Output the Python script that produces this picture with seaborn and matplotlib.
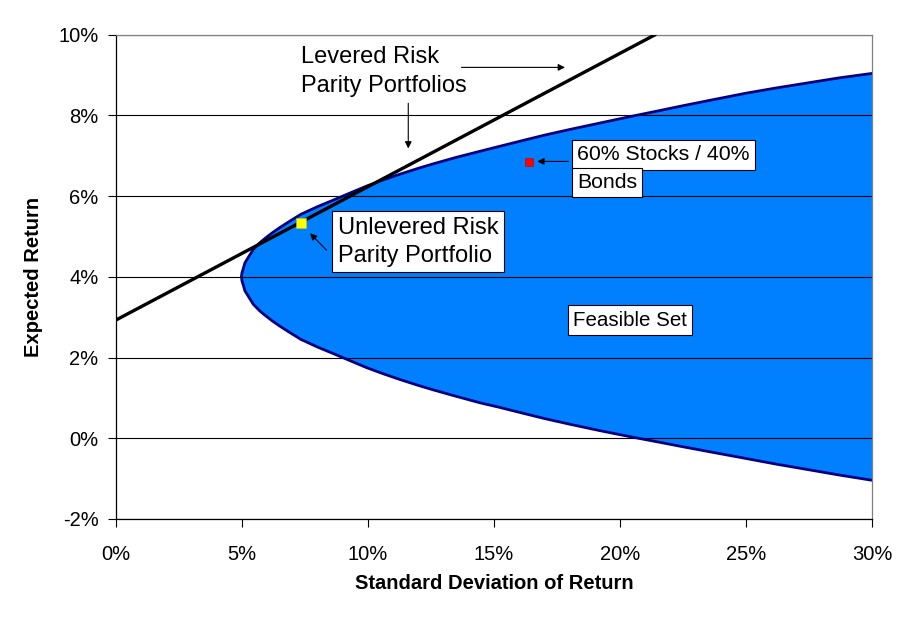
import matplotlib.pyplot as plt
import seaborn as sns
from matplotlib.ticker import FuncFormatter

# feasible set frontier (std dev %, expected return %)
frontier_sigma = [4.98, 5.0, 5.05, 5.12, 5.3, 5.45, 5.7, 5.91, 6.2, 6.5,
                  6.9, 7.34, 8.0, 8.62, 9.3, 9.95, 10.6, 11.3, 12.0, 12.59,
                  13.5, 14.44, 15.2, 16.03, 17.0, 18.0, 19.2, 20.4, 21.5, 22.5,
                  23.7, 25.0, 26.2, 27.5, 28.7, 30.0]
upper_mu = [4.0, 4.1, 4.2, 4.35, 4.53, 4.68, 4.84, 4.95, 5.09, 5.22,
            5.38, 5.55, 5.74, 5.90, 6.08, 6.25, 6.40, 6.55, 6.69, 6.80,
            6.96, 7.11, 7.23, 7.36, 7.51, 7.65, 7.81, 7.97, 8.11, 8.24,
            8.39, 8.55, 8.68, 8.81, 8.93, 9.04]
lower_mu = [4.0, 3.9, 3.8, 3.65, 3.47, 3.32, 3.16, 3.05, 2.91, 2.78,
            2.62, 2.45, 2.26, 2.10, 1.92, 1.75, 1.60, 1.45, 1.31, 1.20,
            1.04, 0.88, 0.77, 0.64, 0.49, 0.35, 0.19, 0.04, -0.09, -0.21,
            -0.35, -0.50, -0.64, -0.78, -0.91, -1.04]

# levered risk parity line
line_sigma = [0.0, 21.4]
line_mu = [2.93, 10.0]

# portfolios
rp_sigma, rp_mu = [7.34], [5.34]
sb_sigma, sb_mu = [16.4], [6.85]

x_ticks = [0, 5, 10, 15, 20, 25, 30]
y_ticks = [-2, 0, 2, 4, 6, 8, 10]

sns.set_style("white")
plt.rcParams['font.family'] = ['Liberation Sans', 'DejaVu Sans']
plt.rcParams['text.color'] = 'black'
plt.rcParams['axes.labelcolor'] = 'black'
plt.rcParams['xtick.color'] = 'black'
plt.rcParams['ytick.color'] = 'black'

fig = plt.figure(figsize=(9.11, 6.25), dpi=100)
ax = fig.add_axes([0.1273, 0.1696, 0.8298, 0.7749])

ax.fill_between(frontier_sigma, lower_mu, upper_mu, color='#0080ff', lw=0, zorder=0.3)
sns.lineplot(x=frontier_sigma, y=upper_mu, ax=ax, color='#000080', lw=2.0, zorder=2)
sns.lineplot(x=frontier_sigma, y=lower_mu, ax=ax, color='#000080', lw=2.0, zorder=2)
sns.lineplot(x=line_sigma, y=line_mu, ax=ax, color='black', lw=2.4, zorder=3)

sns.scatterplot(x=rp_sigma, y=rp_mu, ax=ax, marker='s', s=42, color='#ffff00',
                edgecolor='#c8c800', linewidth=0.4, zorder=4)
sns.scatterplot(x=sb_sigma, y=sb_mu, ax=ax, marker='s', s=38, color='#ff0000',
                edgecolor='#c00000', linewidth=0.4, zorder=4)

ax.set_xlim(0, 30)
ax.set_ylim(-2, 10)
ax.set_xticks(x_ticks)
ax.set_yticks(y_ticks)
pct = FuncFormatter(lambda v, p: f"{v:.0f}%")
ax.xaxis.set_major_formatter(pct)
ax.yaxis.set_major_formatter(pct)
ax.tick_params(axis='both', which='major', direction='out', length=5.5, width=0.8,
               color='black', labelcolor='black', labelsize=14.5,
               bottom=True, left=True)
ax.tick_params(axis='x', pad=13)
ax.tick_params(axis='y', pad=7)

ax.grid(axis='y', color='black', lw=0.8)
ax.grid(axis='x', visible=False)
ax.set_axisbelow(True)
for side in ['left', 'bottom']:
    ax.spines[side].set_color('black')
    ax.spines[side].set_linewidth(0.9)
for side in ['top', 'right']:
    ax.spines[side].set_color('#808080')
    ax.spines[side].set_linewidth(0.9)

ax.set_xlabel("Standard Deviation of Return", fontsize=14.5, fontweight='bold')
ax.set_ylabel("Expected Return", fontsize=14.5, fontweight='bold')
ax.xaxis.set_label_coords(0.5, -0.113)
ax.yaxis.set_label_coords(-0.097, 0.5)

box = dict(boxstyle='square,pad=0.25', fc='white', ec='black', lw=0.8)
arrow = dict(arrowstyle='-|>', color='black', lw=0.8, mutation_scale=10, shrinkA=0, shrinkB=0)

ax.text(7.36, 9.09, "Levered Risk\nParity Portfolios", fontsize=17,
        ha='left', va='center', linespacing=1.4, zorder=5)
ax.annotate("", xy=(17.82, 9.19), xytext=(13.71, 9.19), arrowprops=arrow, zorder=5)
ax.annotate("", xy=(11.6, 7.18), xytext=(11.6, 8.30), arrowprops=arrow, zorder=5)

ax.text(8.81, 4.875, "Unlevered Risk\nParity Portfolio", fontsize=17,
        ha='left', va='center', linespacing=1.35, bbox=box, zorder=5)
ax.annotate("", xy=(7.70, 5.08), xytext=(8.36, 4.66), arrowprops=arrow, zorder=5)

ax.text(18.29, 7.02, "60% Stocks / 40%", fontsize=15.3, ha='left', va='center',
        bbox=box, zorder=5)
ax.text(18.29, 6.34, "Bonds", fontsize=15.3, ha='left', va='center',
        bbox=box, zorder=5)
ax.annotate("", xy=(16.72, 6.86), xytext=(17.95, 6.86), arrowprops=arrow, zorder=5)

ax.text(20.4, 2.93, "Feasible Set", fontsize=14.8, ha='center', va='center',
        bbox=box, zorder=5)

fig.savefig("out.png", dpi=100)
